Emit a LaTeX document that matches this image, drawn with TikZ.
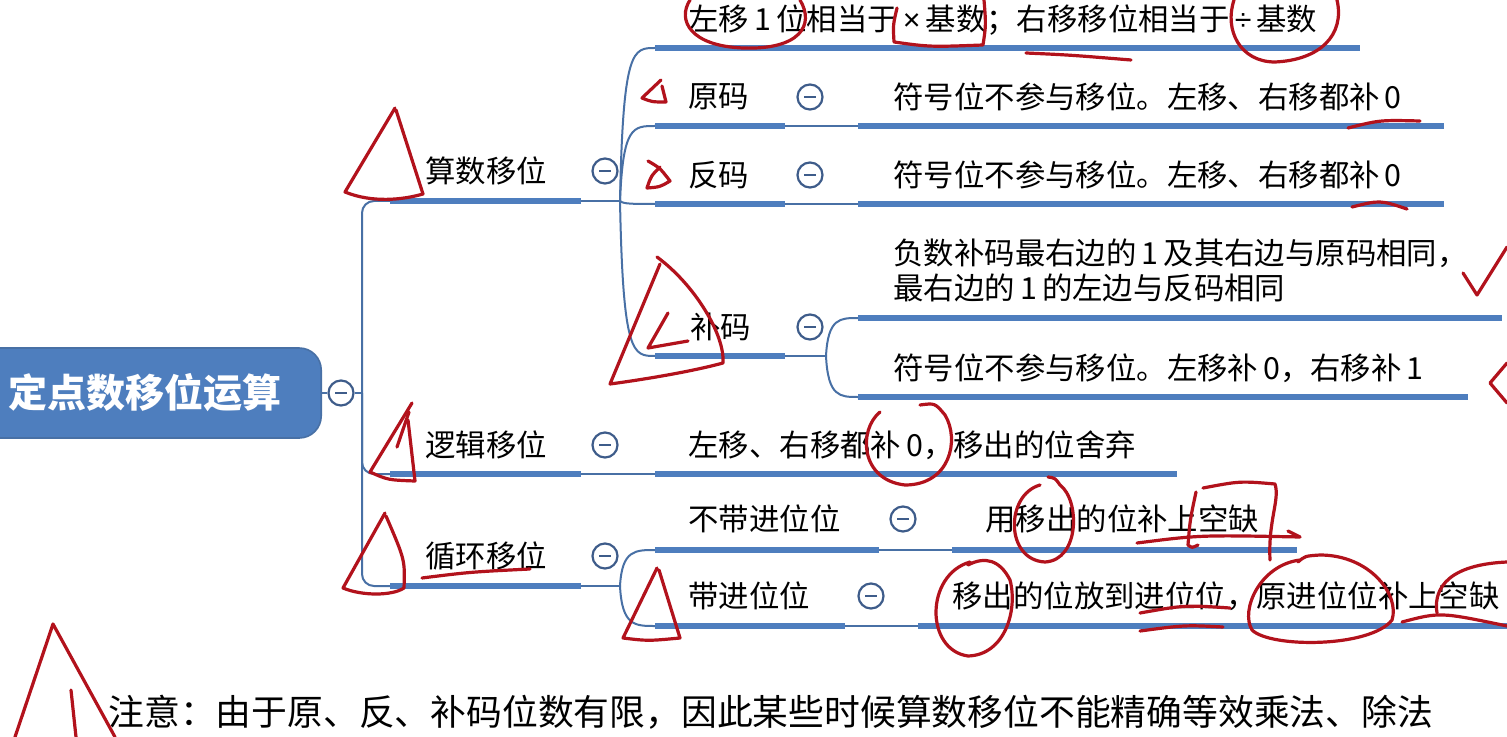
\documentclass[tikz,border=0pt]{standalone}
\usepackage{fontspec}
\setmainfont{Noto Sans CJK SC}
\newfontfamily\signfont{Liberation Sans}
\usetikzlibrary{positioning,calc}

\definecolor{mapblue}{RGB}{78,126,190}
\definecolor{linkblue}{RGB}{72,112,165}
\definecolor{foldblue}{RGB}{62,92,138}
\definecolor{inkred}{RGB}{178,18,28}

\begin{document}
\begin{tikzpicture}[x=0.5pt, y=-0.5pt,
    topic/.style={anchor=west, inner sep=0pt, font=\fontsize{15.2}{17.5}\selectfont},
    bar/.style={draw=mapblue, line width=3.4pt},
    link/.style={draw=linkblue, line width=1pt},
    fold/.style={circle, draw=foldblue, line width=1.1pt, fill=white, minimum size=12.5pt, inner sep=0pt,
      path picture={\draw[foldblue, line width=1.1pt] ([xshift=-3pt]path picture bounding box.center) -- ([xshift=3pt]path picture bounding box.center);}},
    ink/.style={draw=inkred, line width=1.6pt, line cap=round, line join=round}]
  \useasboundingbox (0,0) rectangle (1507,737);
  \clip (0,0) rectangle (1507,737);
  \fill[white] (0,0) rectangle (1507,737);

  % root topic
  \node[fill=mapblue, draw=linkblue, line width=0.8pt, rounded corners=11pt, minimum width=176pt, minimum height=45pt,
        anchor=east, text=white, font=\fontsize{19.5}{22}\selectfont\bfseries] (root) at (322,393) {定点数移位运算};
  \node[fold] (rootfold) at (341,393) {};
  \coordinate (trunk) at (362,393);
  \draw[link] (root) -- (rootfold) -- (trunk);

  \coordinate (arith) at (390,201);
  \coordinate (logic) at (390,474);
  \coordinate (cycle) at (390,586);
  \draw[link, rounded corners=6pt] (arith) -| (trunk) |- (cycle);
  \draw[link, rounded corners=6pt] (trunk) |- (logic);

  % arithmetic shift
  \node[topic] (arithtext) at (425,171) {算数移位};
  \draw[bar] (arith) -- (581,201) coordinate (arithend);
  \node[fold] (arithfold) at (605,171) {};
  \draw[link] (arithend) -- (620,201) coordinate (arithfork);
  \coordinate (rule) at (655,48);
  \coordinate (orig) at (655,126);
  \coordinate (ones) at (655,204);
  \coordinate (twos) at (655,356);
  \foreach \t in {rule,orig,ones,twos}
    \draw[link] (arithfork) .. controls ($(arithfork|-\t)+(3,0)$) and ($(\t)+(-22,0)$) .. (\t);

  \draw[bar] (rule) -- (1360,48);
  \node[topic] (ruletext) at (688,20) {左移\,1\,位相当于\,{\signfont×}\,基数；右移移位相当于\,{\signfont÷}\,基数};

  \draw[bar] (orig) -- (785,126) coordinate (origend);
  \node[topic] (origtext) at (688,97) {原码};
  \node[fold] (origfold) at (810,97) {};
  \draw[link] (origend) -- (858,126) coordinate (origleaf);
  \draw[bar] (origleaf) -- (1444,126);
  \node[topic] (origrule) at (893,97) {符号位不参与移位。左移、右移都补\,0};

  \draw[bar] (ones) -- (785,204) coordinate (onesend);
  \node[topic] (onestext) at (688,175) {反码};
  \node[fold] (onesfold) at (810,175) {};
  \draw[link] (onesend) -- (858,204) coordinate (onesleaf);
  \draw[bar] (onesleaf) -- (1444,204);
  \node[topic] (onesrule) at (893,175) {符号位不参与移位。左移、右移都补\,0};

  \draw[bar] (twos) -- (785,356) coordinate (twosend);
  \node[topic] (twostext) at (690,327) {补码};
  \node[fold] (twosfold) at (810,327) {};
  \draw[link] (twosend) -- (826,356) coordinate (twosfork);
  \coordinate (twosa) at (858,318);
  \coordinate (twosb) at (858,397);
  \foreach \t in {twosa,twosb}
    \draw[link] (twosfork) .. controls ($(twosfork|-\t)+(2,0)$) and ($(\t)+(-18,0)$) .. (\t);
  \draw[bar] (twosa) -- (1502,318);
  \draw[bar] (twosb) -- (1468,397);
  \node[topic, align=left] (twosrulea) at (893,270) {负数补码最右边的\,1\,及其右边与原码相同，\\最右边的\,1\,的左边与反码相同};
  \node[topic] (twosruleb) at (893,368) {符号位不参与移位。左移补\,0，右移补\,1};

  % logical shift
  \node[topic] (logictext) at (425,445) {逻辑移位};
  \draw[bar] (logic) -- (581,474) coordinate (logicend);
  \node[fold] (logicfold) at (605,445) {};
  \draw[link] (logicend) -- (655,474) coordinate (logicleaf);
  \draw[bar] (logicleaf) -- (1177,474);
  \node[topic] (logicrule) at (688,445) {左移、右移都补\,0，移出的位舍弃};

  % circular shift
  \node[topic] (cycletext) at (425,556) {循环移位};
  \draw[bar] (cycle) -- (581,586) coordinate (cycleend);
  \node[fold] (cyclefold) at (605,556) {};
  \draw[link] (cycleend) -- (620,586) coordinate (cyclefork);
  \coordinate (nocarry) at (655,550);
  \coordinate (carry) at (655,626);
  \foreach \t in {nocarry,carry}
    \draw[link] (cyclefork) .. controls ($(cyclefork|-\t)+(2,0)$) and ($(\t)+(-20,0)$) .. (\t);

  \draw[bar] (nocarry) -- (879,550) coordinate (nocarryend);
  \node[topic] (nocarrytext) at (688,519) {不带进位位};
  \node[fold] (nocarryfold) at (903,519) {};
  \draw[link] (nocarryend) -- (952,550) coordinate (nocarryleaf);
  \draw[bar] (nocarryleaf) -- (1297,550);
  \node[topic] (nocarryrule) at (985,519) {用移出的位补上空缺};

  \draw[bar] (carry) -- (845,626) coordinate (carryend);
  \node[topic] (carrytext) at (688,596) {带进位位};
  \node[fold] (carryfold) at (871,596) {};
  \draw[link] (carryend) -- (918,626) coordinate (carryleaf);
  \draw[bar] (carryleaf) -- (1520,626);
  \node[topic] (carryrule) at (952,596) {移出的位放到进位位，原进位位补上空缺};

  % note
  \node[anchor=west, inner sep=0pt, font=\fontsize{17.9}{20}\selectfont] (note) at (108,712)
    {注意：由于原、反、补码位数有限，因此某些时候算数移位不能精确等效乘法、除法};

  % hand-written marks
  \draw[ink] (395,108) -- (345,192) .. controls (372,203) and (402,200) .. (423,194) -- (396,110);
  \draw[ink] (412,403) -- (370,472) .. controls (388,480) .. (415,481) -- (408,420);
  \draw[ink] (397,447) -- (409,412);
  \draw[ink] (385,513) -- (343,588) .. controls (362,596) and (392,596) .. (404,588) .. controls (405,560) .. (386,516);
  \draw[ink] (422,578) .. controls (470,572) .. (530,569);
  \draw[ink] (657,257) .. controls (695,285) and (725,335) .. (723,363) .. controls (690,372) and (640,380) .. (610,384) -- (660,264);
  \draw[ink] (668,313) -- (648,348) -- (688,341);
  \draw[ink] (661,80) -- (642,98) .. controls (652,102) .. (666,102) -- (662,86);
  \draw[ink] (648,161) .. controls (660,168) .. (670,181) .. controls (660,187) .. (647,188) .. controls (651,176) .. (660,167);
  \draw[ink] (657,568) -- (623,638) .. controls (648,641) .. (680,638) -- (659,570);
  \draw[ink] (15,737) -- (53,624) -- (115,737);
  \draw[ink] (71,690) -- (76,737);
  \draw[ink] (690,0) .. controls (677,20) and (690,46) .. (743,48) .. controls (800,50) and (815,25) .. (800,0);
  \draw[ink] (897,8) .. controls (893,25) .. (894,42) .. controls (930,47) .. (983,45) .. controls (986,25) .. (984,0);
  \draw[ink] (1234,0) .. controls (1224,30) and (1240,62) .. (1275,62) .. controls (1320,60) and (1345,35) .. (1337,0);
  \draw[ink] (1026,53) .. controls (1070,55) .. (1131,60);
  \draw[ink] (1348,128) .. controls (1380,120) .. (1420,121);
  \draw[ink] (1352,207) .. controls (1380,200) .. (1407,209);
  \draw[ink] (1463,273) -- (1477,295) -- (1507,247);
  \draw[ink] (1507,363) -- (1490,383) -- (1507,403);
  \draw[ink] (880,412) .. controls (858,430) and (860,480) .. (905,485) .. controls (950,485) and (960,440) .. (945,415) .. controls (935,403) .. (920,405);
  \draw[ink] (1040,485) .. controls (1005,495) and (1005,560) .. (1045,562) .. controls (1080,560) and (1080,500) .. (1060,485) .. controls (1055,478) .. (1048,477);
  \draw[ink] (1137,543) .. controls (1200,535) .. (1300,537) -- (1288,531);
  \draw[ink] (1196,492) .. controls (1190,520) .. (1188,545) .. controls (1192,548) .. (1198,545);
  \draw[ink] (1203,488) .. controls (1240,481) .. (1275,484) .. controls (1280,500) and (1268,520) .. (1270,560);
  \draw[ink] (970,562) .. controls (925,575) and (925,650) .. (968,656) .. controls (1005,655) and (1018,610) .. (1010,580) .. controls (1000,560) and (985,556) .. (968,565);
  \draw[ink] (1140,613) .. controls (1185,605) .. (1230,608);
  \draw[ink] (1140,631) .. controls (1185,625) .. (1223,627);
  \draw[ink] (1300,560) .. controls (1260,565) and (1240,610) .. (1252,630) .. controls (1270,648) and (1370,648) .. (1392,620) .. controls (1400,595) and (1370,555) .. (1320,555) .. controls (1305,556) .. (1298,562);
  \draw[ink] (1437,613) .. controls (1434,595) and (1440,565) .. (1507,562);
  \draw[ink] (1402,622) .. controls (1440,612) .. (1507,626);
\end{tikzpicture}
\end{document}
